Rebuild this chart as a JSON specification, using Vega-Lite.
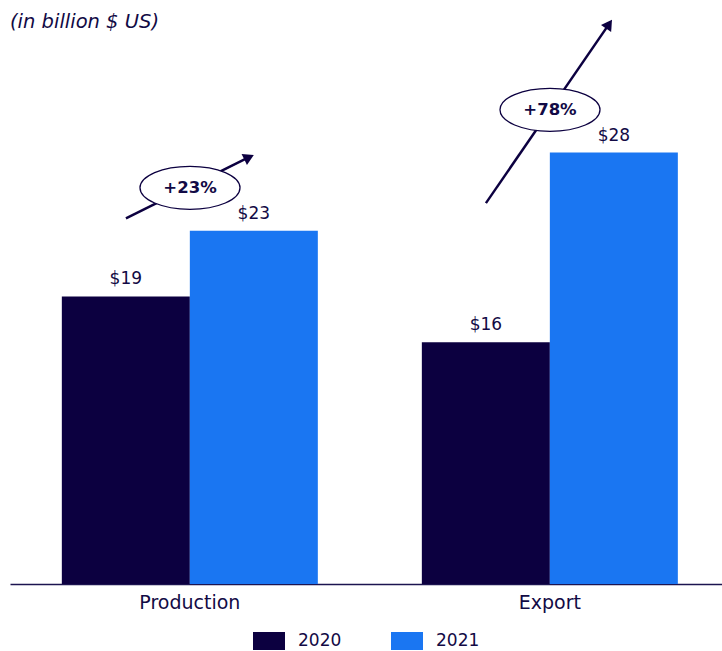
{
  "$schema": "https://vega.github.io/schema/vega-lite/v6.json",
  "width": 712,
  "height": 566,
  "autosize": {"type": "none"},
  "padding": {"left": 10, "top": 18, "right": 0, "bottom": 67},
  "background": "white",
  "title": {
    "text": "(in billion $ US)",
    "anchor": "start",
    "frame": "group",
    "offset": -14,
    "fontSize": 19.5,
    "fontStyle": "italic",
    "fontWeight": "normal",
    "font": "DejaVu Sans",
    "color": "#120a45"
  },
  "config": {
    "view": {"stroke": null},
    "font": "DejaVu Sans"
  },
  "layer": [
    {
      "data": {"values": [
        {"category": "Production", "year": "2020", "value": 18.8, "label": "$19"},
        {"category": "Production", "year": "2021", "value": 23.1, "label": "$23"},
        {"category": "Export", "year": "2020", "value": 15.8, "label": "$16"},
        {"category": "Export", "year": "2021", "value": 28.2, "label": "$28"}
      ]},
      "encoding": {
        "x": {
          "field": "category", "type": "nominal", "sort": ["Production", "Export"],
          "scale": {"paddingInner": 0.2889, "paddingOuter": 0.1333, "align": 0.54},
          "axis": {
            "title": null, "labelAngle": 0, "ticks": false, "labelPadding": 9,
            "labelFontSize": 19, "labelColor": "#120a45", "labelFont": "DejaVu Sans",
            "domainColor": "#1c1450", "domainWidth": 1.5
          }
        },
        "xOffset": {"field": "year", "type": "nominal", "scale": {"paddingInner": 0, "paddingOuter": 0}},
        "y": {"field": "value", "type": "quantitative", "scale": {"domain": [0, 37], "nice": false}, "axis": null}
      },
      "layer": [
        {
          "mark": {"type": "bar"},
          "encoding": {
            "color": {
              "field": "year", "type": "nominal",
              "scale": {"domain": ["2020", "2021"], "range": ["#0c0040", "#1a76f2"]},
              "legend": {
                "title": null, "orient": "none", "direction": "horizontal",
                "legendX": 243, "legendY": 607,
                "symbolType": "M-1,-0.5625H1V0.5625H-1Z", "symbolSize": 1024,
                "symbolStrokeWidth": 0, "symbolOpacity": 1,
                "labelFontSize": 17, "labelColor": "#120a45", "labelFont": "DejaVu Sans",
                "labelOffset": 13, "columnPadding": 49, "padding": 0
              }
            }
          }
        },
        {
          "mark": {"type": "text", "baseline": "alphabetic", "dy": -12, "fontSize": 17, "color": "#120a45", "font": "DejaVu Sans"},
          "encoding": {"text": {"field": "label"}}
        }
      ]
    },
    {
      "data": {"values": [
        {"arrow": "Production", "u": -0.178, "v": 23.9},
        {"arrow": "Production", "u": 0.164, "v": 27.9},
        {"arrow": "Export", "u": 0.822, "v": 24.9},
        {"arrow": "Export", "u": 1.164, "v": 36.6}
      ]},
      "mark": {"type": "line", "color": "#0c0040", "strokeWidth": 2.5},
      "encoding": {
        "x": {"field": "u", "type": "quantitative", "scale": {"domain": [-0.5, 1.4778], "nice": false, "zero": false}, "axis": null},
        "y": {"field": "v", "type": "quantitative"},
        "detail": {"field": "arrow"}
      }
    },
    {
      "data": {"values": [
        {"arrow": "Production", "u": 0.164, "v": 27.9},
        {"arrow": "Export", "u": 1.164, "v": 36.6}
      ]},
      "mark": {"type": "point", "shape": "triangle-up", "filled": true, "opacity": 1, "color": "#0c0040", "size": 150},
      "encoding": {
        "x": {"field": "u", "type": "quantitative", "scale": {"domain": [-0.5, 1.4778], "nice": false, "zero": false}, "axis": null},
        "y": {"field": "v", "type": "quantitative"},
        "angle": {"field": "arrow", "type": "nominal", "scale": {"domain": ["Production", "Export"], "range": [64, 34]}, "legend": null}
      }
    },
    {
      "data": {"values": [
        {"category": "Production", "u": 0, "v": 25.9, "label": "+23%"},
        {"category": "Export", "u": 1, "v": 31.0, "label": "+78%"}
      ]},
      "encoding": {
        "x": {"field": "u", "type": "quantitative", "scale": {"domain": [-0.5, 1.4778], "nice": false, "zero": false}, "axis": null},
        "y": {"field": "v", "type": "quantitative"}
      },
      "layer": [
        {
          "mark": {"type": "point", "shape": "M-1,0A1,0.43 0 1,0 1,0A1,0.43 0 1,0 -1,0Z", "size": 10000, "filled": false, "fill": "white", "fillOpacity": 1, "stroke": "#0c0040", "strokeWidth": 1.3, "opacity": 1}
        },
        {
          "mark": {"type": "text", "fontSize": 16.5, "fontWeight": "bold", "color": "#120a45", "font": "DejaVu Sans", "baseline": "middle"},
          "encoding": {"text": {"field": "label"}}
        }
      ]
    }
  ],
  "resolve": {"scale": {"x": "independent"}, "axis": {"x": "independent"}}
}
